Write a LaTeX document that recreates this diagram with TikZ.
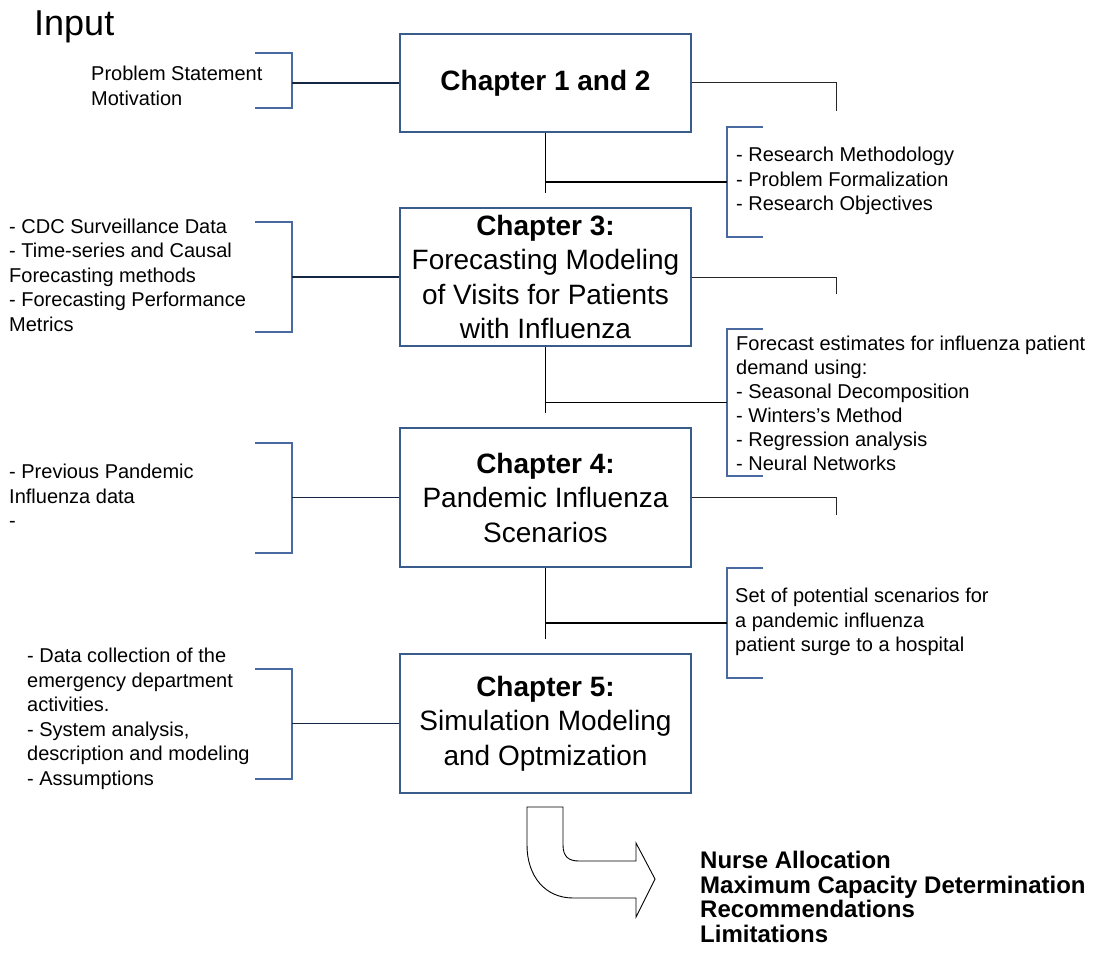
\documentclass[tikz,border=0pt]{standalone}
\usepackage{fontspec}
\setmainfont{Liberation Sans}
\definecolor{boxblue}{RGB}{56,93,138}
\definecolor{brkblue}{RGB}{72,106,160}
\definecolor{navy}{RGB}{20,38,68}
\begin{document}
\begin{tikzpicture}[x=1pt,y=-1pt,
  chap/.style={draw=boxblue, line width=2.6pt, minimum width=291pt, inner sep=0pt,
    align=center, font=\fontsize{28}{34.5}\selectfont},
  txt/.style={anchor=west, inner sep=0pt, align=left, font=\fontsize{20}{24.5}\selectfont},
  brk/.style={draw=brkblue, line width=1.3pt},
  conn/.style={draw=black, line width=1.2pt},
  elbow/.style={draw=black!85, line width=1pt},
  lconn/.style={draw=navy, line width=1.4pt}]
\useasboundingbox (0,0) rectangle (1101,955);

% title
\node[anchor=base west, inner sep=0pt, font=\fontsize{36}{40}\selectfont] (inp) at (34,36) {Input};

% chapter boxes
\node[chap, minimum height=98pt] (c12) at (545.5,83) {\textbf{Chapter 1 and 2}};
\node[chap, minimum height=138pt] (c3) at (545.5,277)
  {\textbf{Chapter 3:}\\Forecasting Modeling\\of Visits for Patients\\with Influenza};
\node[chap, minimum height=139pt] (c4) at (545.5,497.5)
  {\textbf{Chapter 4:}\\Pandemic Influenza\\Scenarios};
\node[chap, minimum height=139pt] (c5) at (545.5,723.5)
  {\textbf{Chapter 5:}\\Simulation Modeling\\and Optmization};

% inputs on the left
\node[txt] (in1) at (91,86) {Problem Statement\\Motivation};
\node[txt] (in2) at (9,275) {- CDC Surveillance Data\\- Time-series and Causal\\Forecasting methods\\- Forecasting Performance\\Metrics};
\node[txt] (in3) at (9,496) {- Previous Pandemic\\Influenza data\\-};
\node[txt] (in4) at (27,719) {- Data collection of the\\emergency department\\activities.\\- System analysis,\\description and modeling\\- Assumptions};

% outputs on the right
\node[txt] (out1) at (736,181) {- Research Methodology\\- Problem Formalization\\- Research Objectives};
\node[txt, font=\fontsize{20}{24}\selectfont] (out2) at (736,403)
  {Forecast estimates for influenza patient\\demand using:\\- Seasonal Decomposition\\- Winters’s Method\\- Regression analysis\\- Neural Networks};
\node[txt] (out3) at (735,622) {Set of potential scenarios for\\a pandemic influenza\\patient surge to a hospital};

% left brackets and their links
\draw[brk] (255,53) -| (292,108) -- (255,108);
\draw[brk] (255,222) -| (292,332) -- (255,332);
\draw[brk] (255,443) -| (292,553) -- (255,553);
\draw[brk] (255,669) -| (292,779) -- (255,779);
\coordinate (a1) at (292,83);
\coordinate (a2) at (292,277);
\coordinate (a3) at (292,497.5);
\coordinate (a4) at (292,723.5);
\draw[lconn] (a1) -- (c12.west);
\draw[lconn] (a2) -- (c3.west);
\draw[lconn] (a3) -- (c4.west);
\draw[lconn] (a4) -- (c5.west);

% right brackets
\draw[brk] (763,127) -| (727,237) -- (763,237);
\draw[brk] (763,329) -| (727,476) -- (763,476);
\draw[brk] (763,568) -| (727,678) -- (763,678);
\coordinate (b1) at (727,182);
\coordinate (b2) at (727,402.5);
\coordinate (b3) at (727,623);

% links below each box
\coordinate (v1) at (545.5,193);
\coordinate (v2) at (545.5,413);
\coordinate (v3) at (545.5,639);
\coordinate (j1) at (545.5,182);
\coordinate (j2) at (545.5,402.5);
\coordinate (j3) at (545.5,623);
\draw[conn] (c12.south) -- (v1);
\draw[conn] (c3.south) -- (v2);
\draw[conn] (c4.south) -- (v3);
\draw[conn] (j1) -- (b1);
\draw[conn] (j2) -- (b2);
\draw[conn] (j3) -- (b3);

% open elbows on the right of the boxes
\coordinate (e1) at (836,111);
\coordinate (e2) at (836,294);
\coordinate (e3) at (836,515);
\draw[elbow] (c12.east) -| (e1);
\draw[elbow] (c3.east) -| (e2);
\draw[elbow] (c4.east) -| (e3);

% bent arrow towards the results
\draw[line width=0.9pt, fill=white]
  (527,807) -- (563,807) -- (563,845)
  .. controls (563,857) and (569,861) .. (579,861)
  -- (636,861) -- (636,843) -- (655,879) -- (636,917) -- (636,898) -- (573,898)
  .. controls (545,898) and (527,876) .. (527,845) -- cycle;

% results
\node[anchor=west, inner sep=0pt, align=left, font=\bfseries\fontsize{24}{24.4}\selectfont] (res) at (700,897)
  {Nurse Allocation\\Maximum Capacity Determination\\Recommendations\\Limitations};
\end{tikzpicture}
\end{document}
